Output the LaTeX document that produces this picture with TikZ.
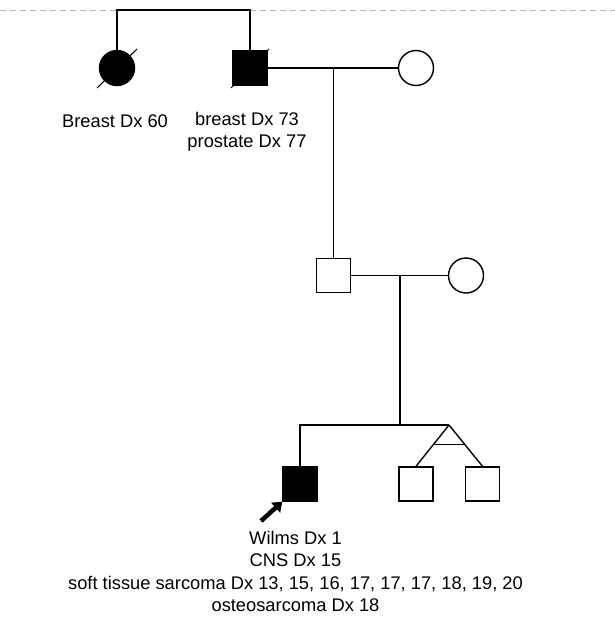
\documentclass[tikz,border=0pt]{standalone}
\usepackage{fontspec}
\setmainfont{Liberation Sans}
\usetikzlibrary{arrows.meta,calc}
\begin{document}
\begin{tikzpicture}[x=1pt,y=-1pt,line width=1.4pt,
  male/.style={draw,rectangle,minimum size=34pt,inner sep=0pt,fill=white},
  female/.style={draw,circle,minimum size=35pt,inner sep=0pt,fill=white},
  affected/.style={fill=black},
  slashline/.style={line width=1pt},
  lbl/.style={align=center,inner sep=0pt,font=\fontsize{18.3}{22.3}\selectfont}]
\fill[white] (0,0) rectangle (615,619);
\useasboundingbox (0,0) rectangle (615,619);
\draw[gray!60,line width=1pt,dash pattern=on 6pt off 4pt] (0,10) -- (615,10);
% generation I
\draw[slashline] (97,88) -- (137,49);
\draw[slashline] (231,88) -- (269,49);
\node[female,affected] (gm) at (117,68) {};
\node[male,affected] (gf) at (250,68) {};
\node[female] (gfw) at (416,68) {};
\coordinate (sibtop) at (183,10);
\draw (gm.north) |- (sibtop) -| (gf.north);
\coordinate (m1) at (333.5,68);
\draw (gf.east) -- (gfw.west);
% generation II
\node[male] (f2) at (333.5,275.5) {};
\node[female] (f2w) at (466,275.5) {};
\draw (m1) -- (f2.north);
\coordinate (m2) at (400,275.5);
\draw (f2.east) -- (f2w.west);
% generation III
\node[male,affected] (p) at (300,484) {};
\node[male] (t1) at (416,484) {};
\node[male] (t2) at (482.5,484) {};
\coordinate (tw) at (449,425);
\draw (m2) -- (m2 |- tw);
\draw (p.north) |- (tw);
\draw (tw) -- (t1.north);
\draw (tw) -- (t2.north);
\draw ($(tw)!0.476!(t1.north)$) -- ($(tw)!0.476!(t2.north)$);
% proband arrow
\coordinate (arrtail) at (261,521);
\draw[line width=4.5pt,-{Triangle[length=9pt,width=13pt]}] (arrtail) -- (p.south west);
% labels
\node[lbl] (l1) at (115,121) {Breast Dx 60};
\node[lbl] (l2) at (247,132) {breast Dx 73\\prostate Dx 77};
\node[lbl] (l3) at (295.5,571.5) {Wilms Dx 1\\CNS Dx 15\\soft tissue sarcoma Dx 13, 15, 16, 17, 17, 17, 18, 19, 20\\osteosarcoma Dx 18};
\end{tikzpicture}
\end{document}
